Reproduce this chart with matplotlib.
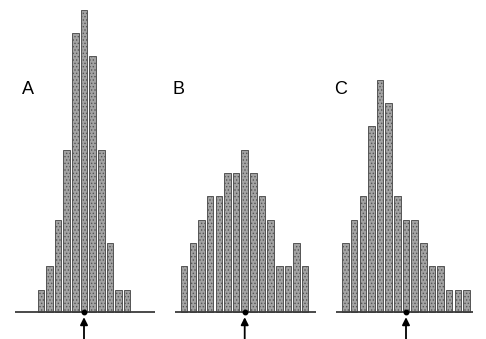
import matplotlib.pyplot as plt
import numpy as np

plt.rcParams['font.family'] = ['Liberation Sans', 'DejaVu Sans']
plt.rcParams['hatch.color'] = '#6e6e6e'
plt.rcParams['hatch.linewidth'] = 0.6

# counts per bin, bins are numbered relative to the arrowed bin (0)
counts_a = [1, 2, 4, 7, 12, 13, 11, 7, 3, 1, 1]
bins_a = list(range(-5, 6))
counts_b = [2, 3, 4, 5, 5, 6, 6, 7, 6, 5, 4, 2, 2, 3, 2]
bins_b = list(range(-7, 8))
counts_c = [3, 4, 5, 8, 10, 9, 5, 4, 4, 3, 2, 2, 1, 1, 1]
bins_c = list(range(-7, 8))
labels = ['A', 'B', 'C']

W, H = 486, 339
px = 8.65          # pixels per bin
unit = 23.33       # pixels per count
base = 339 - 311.7 # baseline height from bottom, px

fig = plt.figure(figsize=(W / 100, H / 100), dpi=100)

# panel: (left px of axes, arrow px, baseline start px, baseline end px, label x px)
panels = [(0, 84.0, 14.5, 154.5, 21.5),
          (162, 244.7, 175.0, 316.0, 172.5),
          (324, 406.0, 335.5, 473.0, 334.0)]
data = [(bins_a, counts_a), (bins_b, counts_b), (bins_c, counts_c)]

for (left, arrow, b0, b1, lx), (bins, counts), lab in zip(panels, data, labels):
    ax = fig.add_axes([left / W, 0, 162 / W, 1])
    ax.set_xlim((left - arrow) / px, (left + 162 - arrow) / px)
    ax.set_ylim(-base / unit, (H - base) / unit)
    ax.axis('off')
    ax.bar(bins, np.array(counts) - 0.05, width=0.74, bottom=0.0,
           color='#a3a3a3', edgecolor='#555555', linewidth=0.7,
           hatch='.....', zorder=2)
    ax.plot([(b0 - arrow) / px, (b1 - arrow) / px], [0, 0],
            color='#3c3c3c', linewidth=1.3, zorder=3, solid_capstyle='butt')
    ax.plot([0], [0], 'o', color='black', markersize=3.2, zorder=4)
    ax.annotate('', xy=(0, -5.5 / unit), xytext=(0, -base / unit),
                arrowprops=dict(arrowstyle='-|>', color='black', lw=1.3,
                                mutation_scale=11, shrinkA=0, shrinkB=0))
    ax.text((lx - arrow) / px, (H - 94.5 - base) / unit, lab,
            fontsize=13, ha='left', va='baseline', color='black')

plt.savefig('out.png', dpi=100)
